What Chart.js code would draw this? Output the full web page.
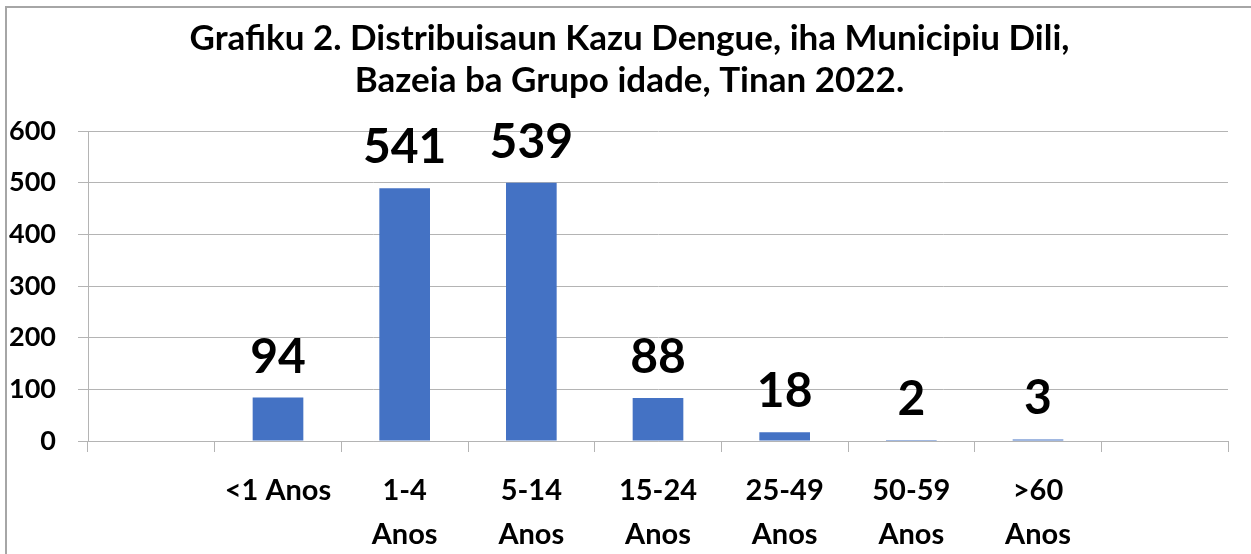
<!DOCTYPE html>
<html>
<head>
<meta charset="utf-8">
<script src="https://cdn.jsdelivr.net/npm/chart.js@4/dist/chart.umd.min.js"></script>
<style>
  body { margin: 0; overflow: hidden; background: #fff; }
  #frame { position: absolute; left: 5px; top: 6px; width: 1300px; height: 600px;
           border-left: 2px solid #a6a6a6; border-top: 2px solid #a6a6a6; }
  #wrap { position: absolute; left: 0; top: 0; width: 1251px; height: 554px; }
</style>
</head>
<body>
<div id="frame"></div>
<div id="wrap"><canvas id="myChart"></canvas></div>
<script>
// age groups (empty slots on both ends, as in the original sheet)
const categories = [[''], ['<1 Anos'], ['1-4', 'Anos'], ['5-14', 'Anos'], ['15-24', 'Anos'],
                    ['25-49', 'Anos'], ['50-59', 'Anos'], ['>60', 'Anos'], ['']];
// bar heights as drawn in the picture
const barValues = [null, 84, 489, 500, 83, 17, 2, 3, null];
// numbers printed above the bars
const valueLabels = ['', '94', '541', '539', '88', '18', '2', '3', ''];
const yTicks = [0, 100, 200, 300, 400, 500, 600];

const titleLines = ['Grafiku 2. Distribuisaun Kazu Dengue, iha Municipiu Dili,',
                    'Bazeia ba Grupo idade, Tinan 2022.'];

const gridColor = '#b4b4b4';

const barLabels = {
  id: 'barLabels',
  afterDatasetsDraw(chart) {
    const ctx = chart.ctx;
    const meta = chart.getDatasetMeta(0);
    ctx.save();
    ctx.font = 'bold 48px Lato';
    ctx.fillStyle = '#000';
    ctx.textAlign = 'center';
    ctx.textBaseline = 'alphabetic';
    meta.data.forEach(function (bar, i) {
      if (barValues[i] == null) return;
      ctx.fillText(valueLabels[i], bar.x, bar.y - 25);
    });
    ctx.restore();
  }
};

// title is centred on the whole frame, not on the plot, so draw it by hand
const frameTitle = {
  id: 'frameTitle',
  afterDraw(chart) {
    const ctx = chart.ctx;
    ctx.save();
    ctx.font = 'bold 35px Lato';
    ctx.fillStyle = '#000';
    ctx.textAlign = 'center';
    ctx.textBaseline = 'middle';
    titleLines.forEach(function (line, i) {
      ctx.fillText(line, chart.width / 2 + 4, 39 + i * 42);
    });
    ctx.restore();
  }
};

new Chart('myChart', {
  type: 'bar',
  data: {
    labels: categories,
    datasets: [{
      data: barValues,
      backgroundColor: '#4472c4',
      categoryPercentage: 1,
      barPercentage: 0.4
    }]
  },
  plugins: [barLabels, frameTitle],
  options: {
    responsive: true,
    maintainAspectRatio: false,
    animation: false,
    layout: { padding: { left: 0, right: 23, top: 131, bottom: 0 } },
    plugins: {
      legend: { display: false },
      tooltip: { enabled: false },
      title: { display: false }
    },
    scales: {
      y: {
        min: 0,
        max: 600,
        afterBuildTicks: function (s) { s.ticks = yTicks.map(v => ({ value: v })); },
        afterFit: function (s) { s.width = 88; },
        ticks: { color: '#000', padding: 22, font: { family: 'Lato', size: 27, weight: 'bold' } },
        grid: { color: gridColor, tickLength: 10 },
        border: { color: gridColor }
      },
      x: {
        afterFit: function (s) { s.height = 113; },
        ticks: {
          color: '#000', maxRotation: 0, autoSkip: false, padding: 17,
          font: { family: 'Lato', size: 29, weight: 'bold', lineHeight: 1.52 }
        },
        grid: { color: gridColor, offset: true, drawOnChartArea: false, tickLength: 11 },
        border: { color: gridColor }
      }
    }
  }
});
</script>
</body>
</html>
